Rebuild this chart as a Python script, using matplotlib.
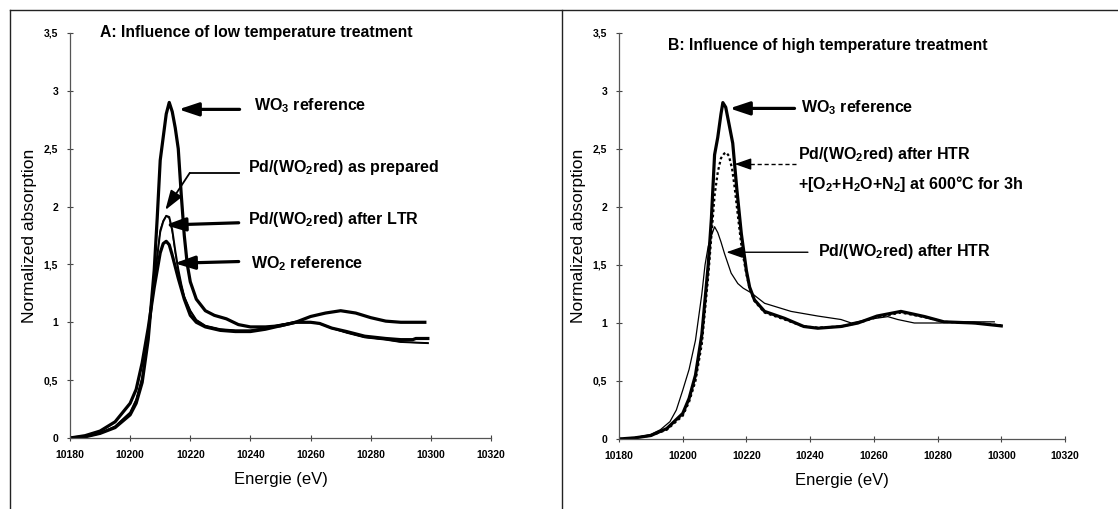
import matplotlib
matplotlib.use("Agg")
import matplotlib.pyplot as plt
from matplotlib.lines import Line2D

plt.rcParams['font.family'] = ['Liberation Sans', 'DejaVu Sans']
plt.rcParams['mathtext.fontset'] = 'custom'
plt.rcParams['mathtext.rm'] = 'Liberation Sans:bold'
plt.rcParams['mathtext.it'] = 'Liberation Sans:bold'
plt.rcParams['mathtext.bf'] = 'Liberation Sans:bold'

# ---------------- Panel A data ----------------
a_wo3_x = [10180, 10185, 10190, 10195, 10200, 10202, 10204, 10206, 10208, 10209, 10210, 10211, 10212, 10213,
           10214, 10215, 10216, 10217, 10218, 10219, 10220, 10222, 10225, 10228, 10232, 10236, 10240, 10245,
           10250, 10255, 10260, 10265, 10270, 10275, 10280, 10285, 10290, 10298]
a_wo3_y = [0.0, 0.01, 0.04, 0.09, 0.2, 0.3, 0.48, 0.85, 1.45, 1.9, 2.4, 2.6, 2.8, 2.9,
           2.82, 2.68, 2.5, 2.1, 1.75, 1.5, 1.35, 1.2, 1.1, 1.06, 1.03, 0.98, 0.96, 0.96,
           0.97, 1.0, 1.05, 1.08, 1.1, 1.08, 1.04, 1.01, 1.0, 1.0]

a_wo2_x = [10180, 10185, 10190, 10195, 10200, 10202, 10204, 10206, 10208, 10210, 10211, 10212, 10213, 10214,
           10215, 10216, 10218, 10220, 10222, 10225, 10230, 10235, 10240, 10245, 10250, 10255, 10260, 10263,
           10267, 10272, 10278, 10285, 10290, 10294, 10295, 10299]
a_wo2_y = [0.0, 0.02, 0.06, 0.14, 0.3, 0.42, 0.65, 0.95, 1.3, 1.6, 1.68, 1.7, 1.67, 1.58,
           1.48, 1.38, 1.2, 1.06, 1.0, 0.96, 0.93, 0.92, 0.92, 0.94, 0.97, 1.0, 1.0, 0.99,
           0.95, 0.92, 0.88, 0.86, 0.85, 0.85, 0.86, 0.86]

a_prep_x = [10180, 10185, 10190, 10195, 10200, 10202, 10204, 10206, 10208, 10210, 10211, 10212, 10213, 10214,
            10215, 10216, 10217, 10218, 10220, 10222, 10225, 10230, 10235, 10240, 10245, 10250, 10255, 10260,
            10263, 10267, 10272, 10278, 10285, 10290, 10299]
a_prep_y = [0.0, 0.01, 0.04, 0.1, 0.22, 0.33, 0.52, 0.88, 1.35, 1.78, 1.87, 1.92, 1.91, 1.8,
            1.62, 1.46, 1.33, 1.22, 1.1, 1.02, 0.97, 0.94, 0.93, 0.93, 0.95, 0.98, 1.0, 1.0,
            0.99, 0.95, 0.91, 0.87, 0.85, 0.83, 0.82]

a_ltr_x = [10180, 10185, 10190, 10195, 10200, 10202, 10204, 10206, 10208, 10210, 10211, 10212, 10213, 10214,
           10215, 10216, 10217, 10218, 10220, 10222, 10225, 10230, 10235, 10240, 10245, 10250, 10255, 10260,
           10263, 10267, 10272, 10278, 10285, 10290, 10299]
a_ltr_y = [0.0, 0.01, 0.04, 0.1, 0.22, 0.33, 0.52, 0.88, 1.35, 1.8, 1.88, 1.92, 1.9, 1.78,
           1.6, 1.44, 1.32, 1.22, 1.1, 1.02, 0.97, 0.94, 0.93, 0.93, 0.95, 0.98, 1.0, 1.0,
           0.99, 0.95, 0.91, 0.87, 0.85, 0.83, 0.82]

# ---------------- Panel B data ----------------
b_wo3_x = [10180, 10185, 10190, 10195, 10200, 10202, 10204, 10206, 10208, 10209, 10210, 10211, 10212, 10212.6,
           10213.5, 10214.5, 10215.7, 10217, 10218.4, 10220, 10221, 10222.5, 10225.7, 10232, 10238, 10242.4,
           10249.7, 10255, 10261, 10268.5, 10276, 10282, 10291.5, 10300]
b_wo3_y = [0.0, 0.01, 0.03, 0.09, 0.22, 0.35, 0.55, 0.9, 1.5, 1.9, 2.45, 2.6, 2.8, 2.9,
           2.86, 2.72, 2.55, 2.15, 1.77, 1.45, 1.31, 1.2, 1.1, 1.04, 0.97, 0.955,
           0.97, 1.0, 1.06, 1.1, 1.055, 1.01, 1.0, 0.975]

b_ox_x = [10180, 10185, 10190, 10195, 10200, 10202, 10204, 10206, 10208, 10209, 10210, 10211, 10212, 10213,
          10213.7, 10214.5, 10215.5, 10216.3, 10217.5, 10218.5, 10220, 10221, 10222.5, 10225.7, 10232, 10238,
          10242.4, 10249.7, 10255, 10261, 10268.5, 10276, 10282, 10291.5, 10300]
b_ox_y = [0.0, 0.01, 0.03, 0.08, 0.2, 0.32, 0.5, 0.82, 1.4, 1.75, 2.1, 2.3, 2.42, 2.46,
          2.47, 2.44, 2.33, 2.17, 1.88, 1.65, 1.42, 1.3, 1.19, 1.09, 1.03, 0.97,
          0.96, 0.97, 1.0, 1.05, 1.09, 1.05, 1.01, 1.0, 0.98]

b_htr_x = [10180, 10185, 10190, 10193, 10196, 10198, 10200, 10202, 10204, 10206, 10207, 10208, 10209, 10210,
           10211, 10212, 10213.1, 10215.2, 10217.3, 10219, 10221.5, 10225.7, 10234, 10242.4, 10249.7, 10252.9,
           10258, 10264.4, 10267.5, 10272.7, 10281, 10288.4, 10297.8]
b_htr_y = [0.0, 0.01, 0.04, 0.08, 0.15, 0.25, 0.42, 0.6, 0.85, 1.25, 1.5, 1.66, 1.75, 1.83,
           1.78, 1.7, 1.6, 1.43, 1.34, 1.3, 1.26, 1.17, 1.1, 1.06, 1.03, 1.0,
           1.03, 1.055, 1.03, 1.0, 1.0, 1.01, 1.01]

x_ticks = [10180, 10200, 10220, 10240, 10260, 10280, 10300, 10320]
y_ticks = [0, 0.5, 1, 1.5, 2, 2.5, 3, 3.5]
y_tick_labels = ['0', '0,5', '1', '1,5', '2', '2,5', '3', '3,5']

W, H = 1118, 509
fig = plt.figure(figsize=(W / 100, H / 100), dpi=100)

# frame lines of the scanned figure
for (x0, y0, x1, y1) in [(10, 10, 10, 509), (10, 10, 1118, 10), (562, 10, 562, 509)]:
    fig.add_artist(Line2D([x0 / W, x1 / W], [1 - y0 / H, 1 - y1 / H], color='#222222', lw=1.0,
                          transform=fig.transFigure))

axA = fig.add_axes([70 / W, 1 - 438 / H, (491 - 70) / W, (438 - 33) / H])
axB = fig.add_axes([619 / W, 1 - 439 / H, (1065 - 619) / W, (439 - 33) / H])

lab_font = dict(fontsize=11.5, fontweight='bold')
title_size = 11.3

def style(ax):
    ax.set_xlim(10180, 10320)
    ax.set_ylim(0, 3.5)
    ax.set_xticks(x_ticks)
    ax.set_xticklabels([str(t) for t in x_ticks], fontsize=7.5, fontweight='bold')
    ax.set_yticks(y_ticks)
    ax.set_yticklabels(y_tick_labels, fontsize=7.5, fontweight='bold')
    for s in ['top', 'right']:
        ax.spines[s].set_visible(False)
    for s in ['left', 'bottom']:
        ax.spines[s].set_color('#555555')
        ax.spines[s].set_linewidth(0.9)
    ax.tick_params(direction='inout', length=5, width=0.8, color='#444444', pad=6)
    ax.set_ylabel('Normalized absorption', fontsize=12.5, labelpad=5)
    ax.set_xlabel('Energie (eV)', fontsize=12, labelpad=9)
    ax.patch.set_alpha(0)

def arrow(ax, tail, tip, lw=2.2, ls='-', head=(10, 7)):
    ax.annotate('', xy=tip, xytext=tail,
                arrowprops=dict(arrowstyle='-|>,head_length=%.2f,head_width=%.2f' % (head[0] / 10, head[1] / 10 * 0.5),
                                lw=lw, ls=ls, color='black', shrinkA=0, shrinkB=0,
                                mutation_scale=10))

# ---------- Panel A ----------
style(axA)
axA.plot(a_wo3_x, a_wo3_y, color='black', lw=2.3)
axA.plot(a_wo2_x, a_wo2_y, color='black', lw=2.3)
axA.plot(a_prep_x, a_prep_y, color='black', lw=1.4)
axA.plot(a_ltr_x, a_ltr_y, color='black', lw=0.9)

axA.text(10190, 3.50, 'A: Influence of low temperature treatment', fontsize=title_size, fontweight='bold', va='center')
arrow(axA, (10236.4, 2.84), (10216.1, 2.84), lw=2.3, head=(12, 8))
axA.text(10241.3, 2.87, 'WO$_3$ reference', va='center', **lab_font)
axA.plot([10236.1, 10219.8], [2.29, 2.29], color='black', lw=1.3)
arrow(axA, (10219.8, 2.29), (10211.7, 1.97), lw=1.3, head=(12, 8))
axA.text(10239.1, 2.34, 'Pd/(WO$_2$red) as prepared', va='center', **lab_font)
arrow(axA, (10236.1, 1.86), (10211.7, 1.84), lw=2.3, head=(12, 8))
axA.text(10239.1, 1.89, 'Pd/(WO$_2$red) after LTR', va='center', **lab_font)
arrow(axA, (10236.1, 1.525), (10214.8, 1.51), lw=2.3, head=(12, 8))
axA.text(10240.2, 1.51, 'WO$_2$ reference', va='center', **lab_font)

# ---------- Panel B ----------
style(axB)
axB.plot(b_htr_x, b_htr_y, color='black', lw=0.9)
axB.plot(b_ox_x, b_ox_y, color='black', lw=1.6, ls=(0, (1.2, 1.2)))
axB.plot(b_wo3_x, b_wo3_y, color='black', lw=2.3)

axB.text(10195.4, 3.39, 'B: Influence of high temperature treatment', fontsize=title_size, fontweight='bold', va='center')
arrow(axB, (10235.1, 2.85), (10214.7, 2.85), lw=2.3, head=(12, 8))
axB.text(10237.2, 2.86, 'WO$_3$ reference', va='center', **lab_font)
axB.plot([10235.6, 10219.0], [2.37, 2.37], color='black', lw=1.0, ls=(0, (3, 2)))
arrow(axB, (10219.0, 2.37), (10216.3, 2.37), lw=1.0, head=(10, 7))
axB.text(10236.1, 2.45, 'Pd/(WO$_2$red) after HTR', va='center', **lab_font)
axB.text(10236.1, 2.20, '+[O$_2$+H$_2$O+N$_2$] at 600°C for 3h', va='center', **lab_font)
arrow(axB, (10239.3, 1.61), (10213.7, 1.61), lw=1.0, head=(10, 7))
axB.text(10242.4, 1.615, 'Pd/(WO$_2$red) after HTR', va='center', **lab_font)

fig.savefig('out.png', dpi=100)
